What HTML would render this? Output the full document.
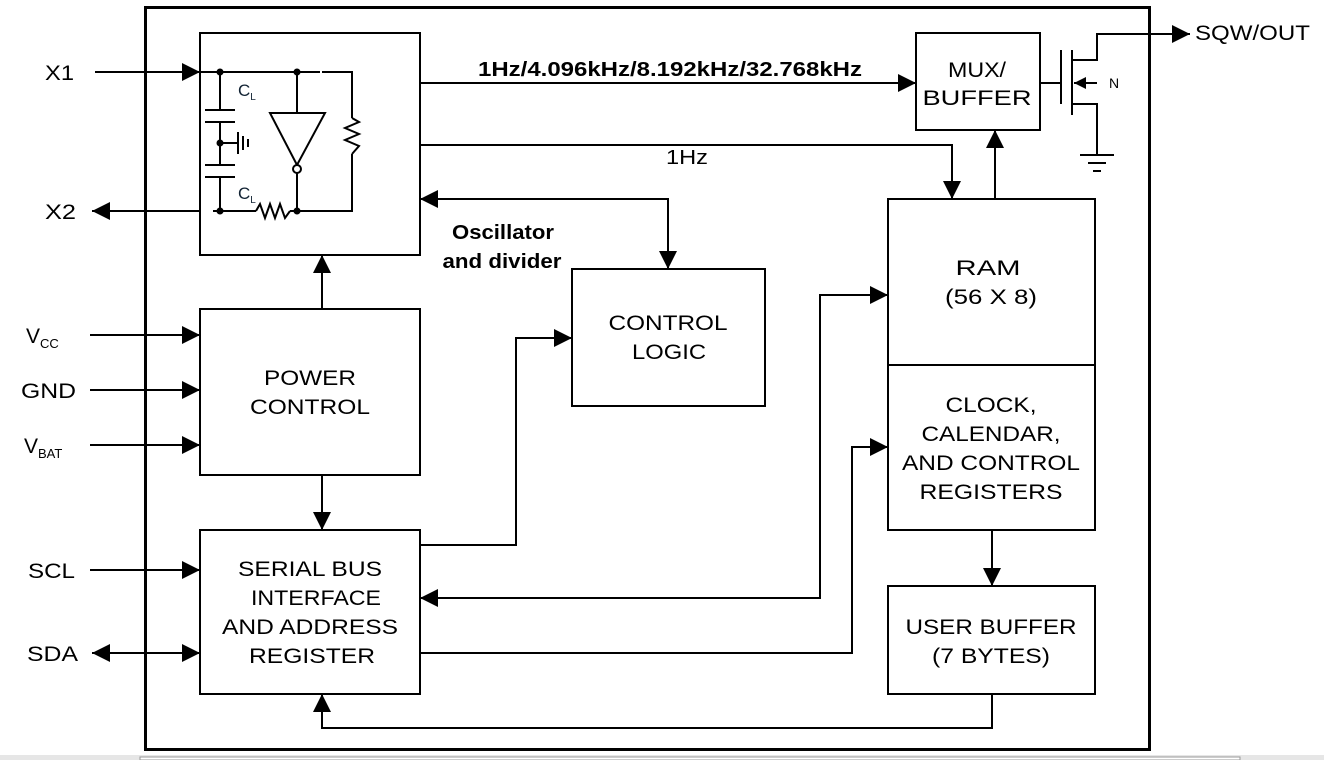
<!DOCTYPE html>
<html><head><meta charset="utf-8"><style>
html,body{margin:0;padding:0;background:#fff;width:1324px;height:760px;overflow:hidden}
svg{display:block}
text{font-family:"Liberation Sans",Arial,sans-serif;fill:#000}
</style></head><body>
<svg width="1324" height="760" viewBox="0 0 1324 760" xmlns="http://www.w3.org/2000/svg">
<defs>
<marker id="a" viewBox="0 0 10 10" refX="10" refY="5" markerWidth="26" markerHeight="18" markerUnits="userSpaceOnUse" orient="auto"><path d="M0,0L10,5L0,10z" fill="#000"/></marker>
<marker id="s" viewBox="0 0 10 10" refX="10" refY="5" markerWidth="26" markerHeight="18" markerUnits="userSpaceOnUse" orient="auto-start-reverse"><path d="M0,0L10,5L0,10z" fill="#000"/></marker>
<marker id="m" viewBox="0 0 10 10" refX="10" refY="5" markerWidth="16" markerHeight="12" markerUnits="userSpaceOnUse" orient="auto"><path d="M0,0L10,5L0,10z" fill="#000"/></marker>
</defs>
<rect x="0" y="755" width="1324" height="5" fill="#e6e6e6"/>
<rect x="140" y="757" width="1100" height="3" fill="#fff" stroke="#999" stroke-width="1"/>
<rect x="145.5" y="7.5" width="1004" height="742" fill="none" stroke="#000" stroke-width="3"/>
<g fill="none" stroke="#000" stroke-width="2">
<rect x="200" y="33" width="220" height="222"/>
<rect x="916" y="33" width="124" height="97"/>
<rect x="888" y="199" width="207" height="166"/>
<rect x="888" y="365" width="207" height="165"/>
<rect x="888" y="586" width="207" height="108"/>
<rect x="572" y="269" width="193" height="137"/>
<rect x="200" y="309" width="220" height="166"/>
<rect x="200" y="530" width="220" height="164"/>
</g>
<g fill="none" stroke="#000" stroke-width="2">
<line x1="95" y1="72" x2="200" y2="72" marker-end="url(#a)"/>
<line x1="200" y1="211" x2="92" y2="211" marker-end="url(#a)"/>
<line x1="90" y1="335" x2="200" y2="335" marker-end="url(#a)"/>
<line x1="90" y1="390" x2="200" y2="390" marker-end="url(#a)"/>
<line x1="90" y1="445" x2="200" y2="445" marker-end="url(#a)"/>
<line x1="90" y1="570" x2="200" y2="570" marker-end="url(#a)"/>
<line x1="92" y1="653" x2="200" y2="653" marker-start="url(#s)" marker-end="url(#a)"/>
<line x1="420" y1="83" x2="916" y2="83" marker-end="url(#a)"/>
<polyline points="420,145 952,145 952,199" marker-end="url(#a)"/>
<polyline points="420,199 668,199 668,269" marker-start="url(#s)" marker-end="url(#a)"/>
<line x1="322" y1="309" x2="322" y2="255" marker-end="url(#a)"/>
<line x1="322" y1="475" x2="322" y2="530" marker-end="url(#a)"/>
<polyline points="420,545 516,545 516,338 572,338" marker-end="url(#a)"/>
<polyline points="888,295 820,295 820,598 420,598" marker-start="url(#s)" marker-end="url(#a)"/>
<polyline points="420,653 852,653 852,447 888,447" marker-end="url(#a)"/>
<line x1="992" y1="530" x2="992" y2="586" marker-end="url(#a)"/>
<polyline points="992,694 992,728 322,728 322,694" marker-end="url(#a)"/>
<line x1="995" y1="199" x2="995" y2="130" marker-end="url(#a)"/>
<line x1="1040" y1="83" x2="1060" y2="83"/>
<line x1="1061" y1="50" x2="1061" y2="104"/>
<line x1="1072" y1="50" x2="1072" y2="115"/>
<polyline points="1072,60 1097,60 1097,34 1190,34" marker-end="url(#a)"/>
<line x1="1097" y1="83" x2="1074" y2="83" marker-end="url(#m)"/>
<polyline points="1072,104 1097,104 1097,155"/>
<line x1="1080" y1="155" x2="1114" y2="155"/>
<line x1="1088" y1="163" x2="1106" y2="163"/>
<line x1="1093" y1="171" x2="1101" y2="171"/>
<line x1="200" y1="72" x2="320" y2="72"/>
<polyline points="322,72 352,72 352,211 213,211"/>
<line x1="220" y1="72" x2="220" y2="110"/>
<line x1="205" y1="110" x2="235" y2="110"/>
<line x1="205" y1="122" x2="235" y2="122"/>
<line x1="220" y1="122" x2="220" y2="165"/>
<line x1="205" y1="165" x2="235" y2="165"/>
<line x1="205" y1="177" x2="235" y2="177"/>
<line x1="220" y1="177" x2="220" y2="211"/>
<line x1="220" y1="143" x2="237" y2="143"/>
<line x1="238" y1="132" x2="238" y2="154"/>
<line x1="243" y1="136" x2="243" y2="150"/>
<line x1="248" y1="139" x2="248" y2="147"/>
<line x1="297" y1="72" x2="297" y2="113"/>
<polygon points="270,113 325,113 297,165"/>
<line x1="297" y1="173" x2="297" y2="211"/>
</g>
<rect x="256" y="205" width="34" height="12" fill="#fff"/>
<rect x="346" y="118" width="12" height="36" fill="#fff"/>
<g fill="none" stroke="#000" stroke-width="2">
<polyline points="256,211 260,204 265,218 270,204 275,218 280,204 285,218 290,211"/>
<polyline points="352,118 359,122 345,128 359,134 345,140 359,146 352,154"/>
</g>
<circle cx="297" cy="169" r="4" fill="#fff" stroke="#000" stroke-width="2"/>
<g fill="#000">
<circle cx="220" cy="72" r="3.5"/><circle cx="297" cy="72" r="3.5"/>
<circle cx="220" cy="143" r="3.5"/><circle cx="220" cy="211" r="3.5"/>
<circle cx="297" cy="211" r="3.5"/>
</g>
<text x="238" y="96" font-size="17" style="fill:#123">C<tspan font-size="10" dy="4">L</tspan></text>
<text x="238" y="199" font-size="17" style="fill:#123">C<tspan font-size="10" dy="4">L</tspan></text>
<g font-size="21">
<text x="45" y="80" textLength="29" lengthAdjust="spacingAndGlyphs">X1</text>
<text x="45" y="219" textLength="31" lengthAdjust="spacingAndGlyphs">X2</text>
<text x="26" y="343">V<tspan font-size="13" dy="5">CC</tspan></text>
<text x="21" y="398" textLength="55" lengthAdjust="spacingAndGlyphs">GND</text>
<text x="24" y="453">V<tspan font-size="13" dy="5">BAT</tspan></text>
<text x="28" y="578" textLength="47" lengthAdjust="spacingAndGlyphs">SCL</text>
<text x="27" y="661" textLength="51" lengthAdjust="spacingAndGlyphs">SDA</text>
<text x="1195" y="40" textLength="115" lengthAdjust="spacingAndGlyphs">SQW/OUT</text>
<text x="1109" y="88" font-size="14">N</text>
</g>
<text x="670" y="76" font-size="20" font-weight="bold" text-anchor="middle" textLength="384" lengthAdjust="spacingAndGlyphs">1Hz/4.096kHz/8.192kHz/32.768kHz</text>
<text x="687" y="164" font-size="20" text-anchor="middle" textLength="42" lengthAdjust="spacingAndGlyphs">1Hz</text>
<text x="503" y="239" font-size="20" font-weight="bold" text-anchor="middle" textLength="102" lengthAdjust="spacingAndGlyphs">Oscillator</text>
<text x="502" y="268" font-size="20" font-weight="bold" text-anchor="middle" textLength="119" lengthAdjust="spacingAndGlyphs">and divider</text>
<g font-size="21" text-anchor="middle">
<text x="977" y="77" textLength="58" lengthAdjust="spacingAndGlyphs">MUX/</text>
<text x="977" y="105" textLength="109" lengthAdjust="spacingAndGlyphs">BUFFER</text>
<text x="988" y="275" textLength="65" lengthAdjust="spacingAndGlyphs">RAM</text>
<text x="991" y="304" textLength="92" lengthAdjust="spacingAndGlyphs">(56 X 8)</text>
<text x="991" y="412" textLength="91" lengthAdjust="spacingAndGlyphs">CLOCK,</text>
<text x="991" y="441" textLength="139" lengthAdjust="spacingAndGlyphs">CALENDAR,</text>
<text x="991" y="470" textLength="178" lengthAdjust="spacingAndGlyphs">AND CONTROL</text>
<text x="991" y="499" textLength="143" lengthAdjust="spacingAndGlyphs">REGISTERS</text>
<text x="991" y="634" textLength="171" lengthAdjust="spacingAndGlyphs">USER BUFFER</text>
<text x="991" y="663" textLength="118" lengthAdjust="spacingAndGlyphs">(7 BYTES)</text>
<text x="668" y="330" textLength="119" lengthAdjust="spacingAndGlyphs">CONTROL</text>
<text x="669" y="359" textLength="74" lengthAdjust="spacingAndGlyphs">LOGIC</text>
<text x="310" y="385" textLength="92" lengthAdjust="spacingAndGlyphs">POWER</text>
<text x="310" y="414" textLength="120" lengthAdjust="spacingAndGlyphs">CONTROL</text>
<text x="310" y="576" textLength="144" lengthAdjust="spacingAndGlyphs">SERIAL BUS</text>
<text x="316" y="605" textLength="130" lengthAdjust="spacingAndGlyphs">INTERFACE</text>
<text x="310" y="634" textLength="176" lengthAdjust="spacingAndGlyphs">AND ADDRESS</text>
<text x="312" y="663" textLength="126" lengthAdjust="spacingAndGlyphs">REGISTER</text>
</g>
</svg>
</body></html>
